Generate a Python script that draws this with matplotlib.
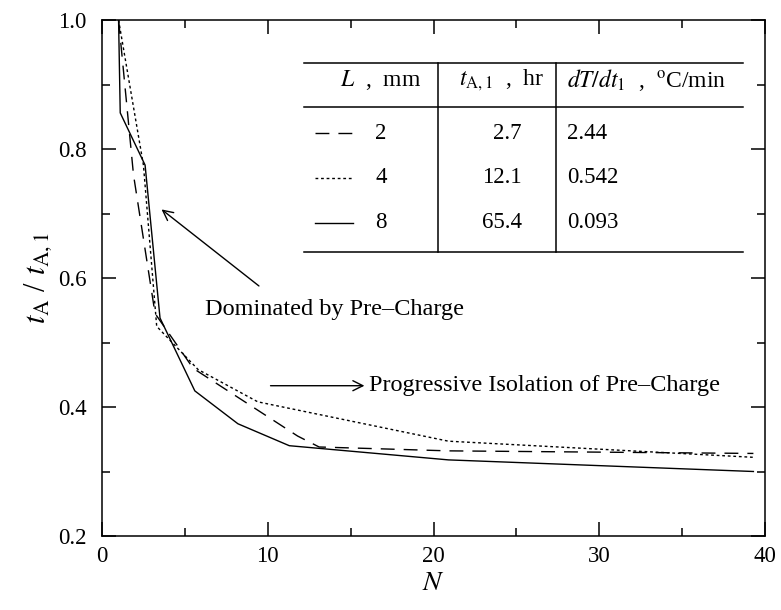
import matplotlib
matplotlib.use("Agg")
import matplotlib.pyplot as plt
import numpy as np

plt.rcParams['font.family'] = ['Liberation Serif', 'DejaVu Serif']
plt.rcParams['mathtext.fontset'] = 'stix'

# data =========================================================================
n_2mm = [1.0, 1.9, 3.2, 5.5, 8.2, 11.8, 13.1, 20.9, 39.3]
r_2mm = [1.0, 0.76, 0.545, 0.46, 0.415, 0.355, 0.338, 0.332, 0.328]

n_4mm = [1.0, 2.5, 3.3, 5.8, 9.4, 20.9, 39.3]
r_4mm = [1.0, 0.775, 0.525, 0.458, 0.408, 0.347, 0.322]

n_8mm = [1.0, 1.1, 2.6, 3.5, 5.6, 8.2, 11.3, 20.9, 39.3]
r_8mm = [1.0, 0.856, 0.775, 0.538, 0.425, 0.374, 0.34, 0.318, 0.3]

table_L = ['2', '4', '8']
table_t = ['2.7', '12.1', '65.4']
table_rate = ['2.44', '0.542', '0.093']

# figure =======================================================================
fig = plt.figure(figsize=(7.81, 6.10), dpi=100)
ax = fig.add_axes([102/781, 1 - 536/610, 663/781, 516/610])

dash = (0, (10, 6.5))
dot = (0, (2, 2))
ax.plot(n_2mm, r_2mm, color='black', lw=1.0, linestyle=dash)
ax.plot(n_4mm, r_4mm, color='black', lw=1.0, linestyle=dot)
ax.plot(n_8mm, r_8mm, color='black', lw=1.0, linestyle='-')

ax.set_xlim(0, 40)
ax.set_ylim(0.2, 1.0)
ax.set_xticks([0, 10, 20, 30, 40])
ax.set_xticks([5, 15, 25, 35], minor=True)
ax.set_yticks([0.2, 0.4, 0.6, 0.8, 1.0])
ax.set_yticks([0.3, 0.5, 0.7, 0.9], minor=True)
ax.set_yticklabels(['0.2', '0.4', '0.6', '0.8', '1.0'])
ax.tick_params(which='both', direction='in', top=True, right=True, labelsize=16.5, width=1.1)
ax.tick_params(which='major', length=10)
ax.tick_params(which='minor', length=5.5)
ax.tick_params(axis='y', which='major', pad=11)
ax.tick_params(axis='x', which='major', pad=7)
for s in ax.spines.values():
    s.set_linewidth(1.1)

ax.set_xlabel(r'$N$', fontsize=20, labelpad=3)
ax.set_ylabel(r'$t_{\rm A}$ / $t_{\rm A,1}$', fontsize=22, labelpad=3)

# annotations
ax.annotate('', xy=(3.46, 0.709), xytext=(9.6, 0.585),
            arrowprops=dict(arrowstyle='->', color='black', lw=1.0, mutation_scale=18))
ax.text(6.2, 0.551, 'Dominated by Pre\u2013Charge', fontsize=17.5, va='center', ha='left')
ax.annotate('', xy=(16.0, 0.433), xytext=(10.0, 0.433),
            arrowprops=dict(arrowstyle='->', color='black', lw=1.0, mutation_scale=18))
ax.text(16.1, 0.433, 'Progressive Isolation of Pre\u2013Charge', fontsize=17.5, va='center', ha='left')

# table in axes fraction ---------------------------------------------------------
T = ax.transAxes
x0, x1 = 0.305, 0.967
for yy in [0.917, 0.832, 0.551]:
    ax.plot([x0, x1], [yy, yy], color='black', lw=1.1, transform=T, clip_on=False)
for xx in [0.507, 0.685]:
    ax.plot([xx, xx], [0.551, 0.917], color='black', lw=1.1, transform=T, clip_on=False)

ax.text(0.482, 0.884, r'$L$  ,  mm', fontsize=17, ha='right', va='center', transform=T)
ax.text(0.603, 0.884, r'$t_{\rm A,1}$  ,  hr', fontsize=17, ha='center', va='center', transform=T)
ax.text(0.701, 0.884, r'$dT/dt_1$  ,  $^{\rm o}$C/min', fontsize=17, ha='left', va='center', transform=T)

row_y = [0.781, 0.694, 0.607]
styles = [dash, dot, '-']
for yy, st, lab, tv, rv in zip(row_y, styles, table_L, table_t, table_rate):
    ax.plot([0.321, 0.379], [yy, yy], color='black', lw=1.0, linestyle=st, transform=T)
    ax.text(0.421, yy, lab, fontsize=16.5, ha='center', va='center', transform=T)
    ax.text(0.633, yy, tv, fontsize=16.5, ha='right', va='center', transform=T)
    ax.text(0.701, yy, rv, fontsize=16.5, ha='left', va='center', transform=T)

fig.savefig('out.png', dpi=100)
